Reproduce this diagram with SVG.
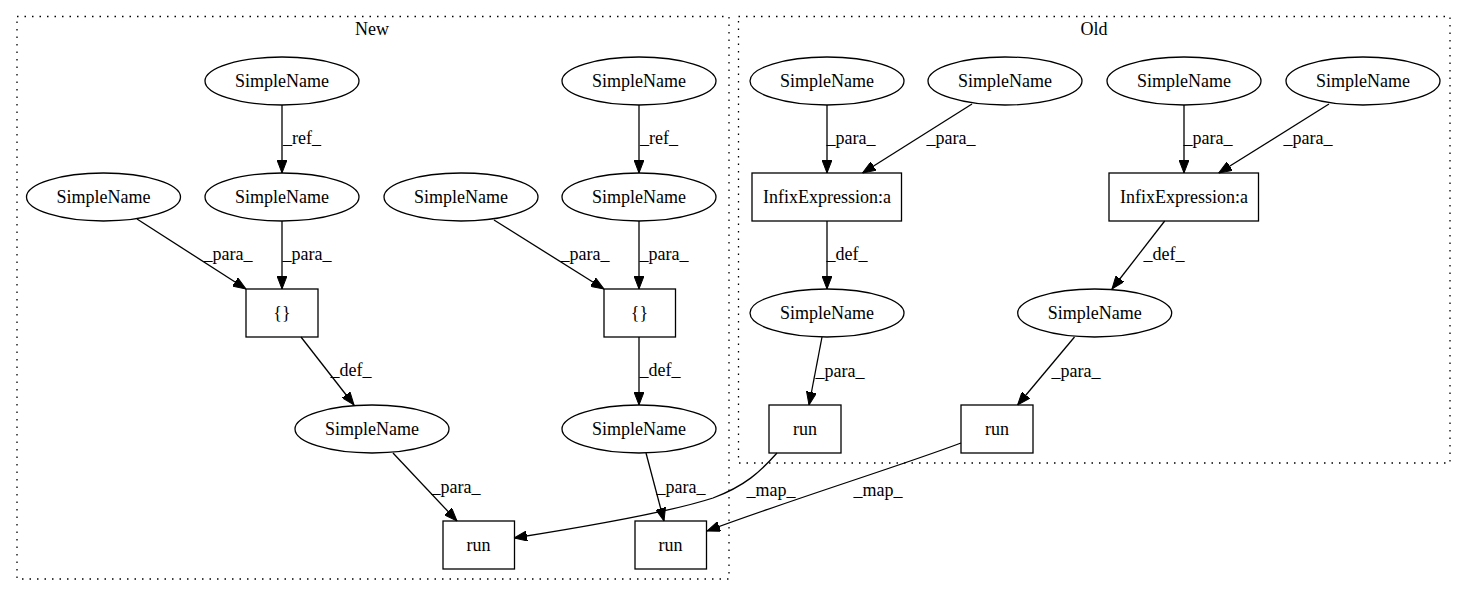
<svg xmlns="http://www.w3.org/2000/svg" width="1467" height="596" viewBox="0 0 1467 596">
<style>
  text { font-family: "Liberation Serif", "Times New Roman", serif; font-size: 18px; fill: #000; text-anchor: middle; }
  .node ellipse, .node rect { fill: none; stroke: #000; stroke-width: 1.3; }
  .cluster { fill: none; stroke: #000; stroke-width: 1.3; stroke-dasharray: 1.5 6; }
  .edges path { fill: none; stroke: #000; stroke-width: 1.3; marker-end: url(#arrow); }
</style>
<defs>
  <marker id="arrow" viewBox="0 0 13 10" refX="13" refY="5" markerWidth="13" markerHeight="10" markerUnits="userSpaceOnUse" orient="auto">
    <path d="M0,0 L13,5 L0,10 z" fill="#000" stroke="#000" stroke-width="1"/>
  </marker>
</defs>
<rect width="1467" height="596" fill="#fff"/>

<g id="cluster_new">
  <rect class="cluster" x="17" y="16.5" width="712" height="562.5"/>
  <text x="372" y="35">New</text>
</g>
<g id="cluster_old">
  <rect class="cluster" x="738.5" y="16.5" width="711.5" height="446.5"/>
  <text x="1094" y="35">Old</text>
</g>

<g class="edges" id="connectors">
  <path d="M282,105 L282,173"/>
  <path d="M639,105 L639,173"/>
  <path d="M137,219 L246,289"/>
  <path d="M282,221 L282,289"/>
  <path d="M494,220 L604,289"/>
  <path d="M639,221 L639,289"/>
  <path d="M301,337 L354,405"/>
  <path d="M639,337 L639,405"/>
  <path d="M393,453 L457,521"/>
  <path d="M646,453 L664,521"/>
  <path d="M827,105 L827,173"/>
  <path d="M972,104 L862.5,173"/>
  <path d="M1184,105 L1184,173"/>
  <path d="M1329,104 L1218.7,173"/>
  <path d="M827,221 L827,289"/>
  <path d="M1164.7,221 L1112,289"/>
  <path d="M822,337 L809,405"/>
  <path d="M1074.5,337 L1017.6,405"/>
  <path d="M777,453 C760,472 745,486 713,498 C670,512 590,526 514,538"/>
  <path d="M961,443 C900,466 790,500 707,531"/>
</g>
<g id="edge_labels">
  <text x="302" y="144">_ref_</text>
  <text x="659" y="144">_ref_</text>
  <text x="228" y="260">_para_</text>
  <text x="307" y="260">_para_</text>
  <text x="585" y="260">_para_</text>
  <text x="664" y="260">_para_</text>
  <text x="351" y="376">_def_</text>
  <text x="660" y="376">_def_</text>
  <text x="456" y="493">_para_</text>
  <text x="681" y="493">_para_</text>
  <text x="851" y="144">_para_</text>
  <text x="951" y="144">_para_</text>
  <text x="1208" y="144">_para_</text>
  <text x="1308" y="144">_para_</text>
  <text x="847" y="260">_def_</text>
  <text x="1164" y="260">_def_</text>
  <text x="840" y="377">_para_</text>
  <text x="1076" y="377">_para_</text>
  <text x="771" y="496">_map_</text>
  <text x="878" y="496">_map_</text>
</g>

<g id="n_new_sn_top1" class="node"><ellipse cx="282" cy="81" rx="77" ry="24"/><text x="282" y="87">SimpleName</text></g>
<g id="n_new_sn_top2" class="node"><ellipse cx="639" cy="81" rx="77" ry="24"/><text x="639" y="87">SimpleName</text></g>
<g id="n_new_sn_a" class="node"><ellipse cx="103.5" cy="197" rx="77" ry="24"/><text x="103.5" y="203">SimpleName</text></g>
<g id="n_new_sn_b" class="node"><ellipse cx="282" cy="197" rx="77" ry="24"/><text x="282" y="203">SimpleName</text></g>
<g id="n_new_sn_c" class="node"><ellipse cx="461" cy="197" rx="77" ry="24"/><text x="461" y="203">SimpleName</text></g>
<g id="n_new_sn_d" class="node"><ellipse cx="639" cy="197" rx="77" ry="24"/><text x="639" y="203">SimpleName</text></g>
<g id="n_new_brace1" class="node"><rect x="246" y="289" width="72" height="48"/><text x="282" y="319">{}</text></g>
<g id="n_new_brace2" class="node"><rect x="604" y="289" width="71.5" height="48"/><text x="639.5" y="319">{}</text></g>
<g id="n_new_sn_e" class="node"><ellipse cx="372" cy="429" rx="77" ry="24"/><text x="372" y="435">SimpleName</text></g>
<g id="n_new_sn_f" class="node"><ellipse cx="639" cy="429" rx="77" ry="24"/><text x="639" y="435">SimpleName</text></g>
<g id="n_new_run1" class="node"><rect x="443" y="521" width="71.5" height="48"/><text x="478.5" y="551">run</text></g>
<g id="n_new_run2" class="node"><rect x="635" y="521" width="71.5" height="48"/><text x="670.5" y="551">run</text></g>

<g id="n_old_sn1" class="node"><ellipse cx="827" cy="81" rx="77" ry="24"/><text x="827" y="87">SimpleName</text></g>
<g id="n_old_sn2" class="node"><ellipse cx="1005" cy="81" rx="77" ry="24"/><text x="1005" y="87">SimpleName</text></g>
<g id="n_old_sn3" class="node"><ellipse cx="1184" cy="81" rx="77" ry="24"/><text x="1184" y="87">SimpleName</text></g>
<g id="n_old_sn4" class="node"><ellipse cx="1363" cy="81" rx="77" ry="24"/><text x="1363" y="87">SimpleName</text></g>
<g id="n_old_infix1" class="node"><rect x="752" y="173" width="149.5" height="48"/><text x="827" y="203">InfixExpression:a</text></g>
<g id="n_old_infix2" class="node"><rect x="1109" y="173" width="149.5" height="48"/><text x="1184" y="203">InfixExpression:a</text></g>
<g id="n_old_sn5" class="node"><ellipse cx="827" cy="313" rx="77" ry="24"/><text x="827" y="319">SimpleName</text></g>
<g id="n_old_sn6" class="node"><ellipse cx="1094.7" cy="313" rx="77" ry="24"/><text x="1094.7" y="319">SimpleName</text></g>
<g id="n_old_run1" class="node"><rect x="769" y="405" width="72" height="48"/><text x="805" y="435">run</text></g>
<g id="n_old_run2" class="node"><rect x="961" y="405" width="72" height="48"/><text x="997" y="435">run</text></g>
</svg>
